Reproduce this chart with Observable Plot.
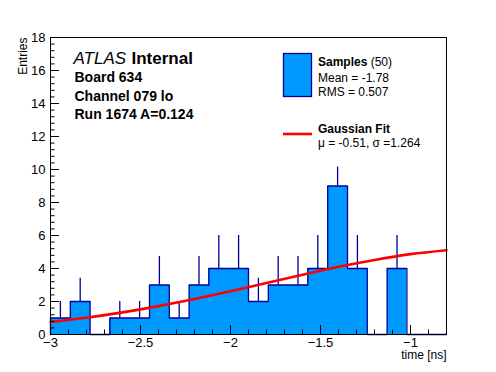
<!DOCTYPE html>
<html><head><meta charset="utf-8">
<script src="https://cdn.jsdelivr.net/npm/d3@7"></script>
<script src="https://cdn.jsdelivr.net/npm/@observablehq/plot@0.6"></script>
<style>
html,body{margin:0;padding:0;background:#fff;}
#chart{width:496px;height:372px;}
svg{font-family:"Liberation Sans",Arial,Helvetica,sans-serif;}
</style></head><body><div id="chart"></div>
<script>
// Histogram: 20 bins of width 0.11 over [-3, -0.8]
const binEdges = [-3,-2.89,-2.78,-2.67,-2.56,-2.45,-2.34,-2.23,-2.12,-2.01,-1.90,-1.79,-1.68,-1.57,-1.46,-1.35,-1.24,-1.13,-1.02,-0.91,-0.80];
const counts   = [1,2,0,1,1,3,1,3,4,4,2,3,3,4,9,4,0,4,0,0];
const errors   = [1,1.41,0,1,1,1.73,1,1.73,2,2,1.41,1.73,1.73,2,1.15,2,0,2,0,0];
// Gaussian fit curve
const fitX = [-3,-2.8,-2.6,-2.4,-2.2,-2.0,-1.8,-1.6,-1.4,-1.2,-1.0,-0.8];
const fitY = [0.76,1.02,1.34,1.72,2.15,2.62,3.12,3.62,4.10,4.52,4.87,5.11];
// Axis ticks
const xTicks = [-3,-2.5,-2,-1.5,-1];
const yTicks = [0,2,4,6,8,10,12,14,16,18];
const xMinor = [-3,-2.9,-2.8,-2.7,-2.6,-2.5,-2.4,-2.3,-2.2,-2.1,-2,-1.9,-1.8,-1.7,-1.6,-1.5,-1.4,-1.3,-1.2,-1.1,-1,-0.9,-0.8];
const yMinor = [0,0.4,0.8,1.2,1.6,2,2.4,2.8,3.2,3.6,4,4.4,4.8,5.2,5.6,6,6.4,6.8,7.2,7.6,8,8.4,8.8,9.2,9.6,10,10.4,10.8,11.2,11.6,12,12.4,12.8,13.2,13.6,14,14.4,14.8,15.2,15.6,16,16.4,16.8,17.2,17.6,18];
// Text
const atlasLabel = ["ATLAS", "Internal"];
const infoLines = ["Board 634", "Channel 079 lo", "Run 1674 A=0.124"];
const legendSamples = ["Samples", " (50)", "Mean = -1.78", "RMS = 0.507"];
const legendFit = ["Gaussian Fit", "\u03bc = -0.51, \u03c3 =1.264"];
const xTitle = "time [ns]";
const yTitle = "Entries";

const FILL = "#0099ff", LINE = "#000099";
const W = 496, H = 372, mL = 50, mR = 50, mT = 37, mB = 38;
const pw = W - mL - mR, ph = H - mT - mB;

const bins = counts.map((c, i) => ({x1: binEdges[i], x2: binEdges[i+1], c, e: errors[i], xc: (binEdges[i] + binEdges[i+1]) / 2}));
const outline = [{x: binEdges[0], y: 0}, ...counts.map((c, i) => ({x: binEdges[i], y: c})), {x: binEdges[binEdges.length-1], y: counts[counts.length-1]}];
const fit = fitX.map((x, i) => ({x, y: fitY[i]}));

const plot = Plot.plot({
  width: W, height: H,
  marginLeft: mL, marginRight: mR, marginTop: mT, marginBottom: mB,
  style: {fontFamily: '"Liberation Sans",Arial,Helvetica,sans-serif', fontSize: "13px", color: "black", background: "white"},
  x: {domain: [-3, -0.8]},
  y: {domain: [0, 18]},
  marks: [
    Plot.rect(bins, {x1: "x1", x2: "x2", y1: 0, y2: "c", fill: FILL, shapeRendering: "crispEdges"}),
    Plot.line(outline, {x: "x", y: "y", curve: "step-after", stroke: LINE, strokeWidth: 1.3}),
    Plot.ruleX(bins.filter(d => d.c > 0), {x: "xc", y1: "c", y2: d => d.c + d.e, stroke: LINE, strokeWidth: 1.3}),
    Plot.line(fit, {x: "x", y: "y", stroke: "#ff0000", strokeWidth: 2.6, curve: "monotone-x"}),
    Plot.frame({stroke: "black", strokeWidth: 1}),
    Plot.tickY(yTicks, {insetRight: pw - 9, stroke: "black"}),
    Plot.tickY(yMinor, {insetRight: pw - 4.5, stroke: "black"}),
    Plot.tickX(xTicks, {insetTop: ph - 9, stroke: "black"}),
    Plot.tickX(xMinor, {insetTop: ph - 4.5, stroke: "black"}),
    Plot.axisY({ticks: yTicks, tickSize: 0, tickPadding: 5, fontSize: 13}),
    Plot.axisX({ticks: xTicks, tickSize: 0, tickPadding: 3, fontSize: 13, tickFormat: d3.format("")}),
    Plot.text([yTitle], {frameAnchor: "top-left", dx: -32, rotate: -90, textAnchor: "end", fontSize: 12, text: d => d}),
    Plot.text([xTitle], {frameAnchor: "bottom-right", dy: 24, textAnchor: "end", fontSize: 12, text: d => d})
  ]
});
document.getElementById("chart").appendChild(plot);

// Annotations and legend (pixel-positioned like ROOT NDC text)
const svg = d3.select(plot);
const g = svg.append("g").attr("font-family", '"Liberation Sans",Arial,Helvetica,sans-serif').attr("fill", "black").attr("text-anchor", "start");
g.append("text").attr("x", 73.5).attr("y", 64).attr("font-size", 17).attr("font-style", "italic").text(atlasLabel[0]);
g.append("text").attr("x", 131.5).attr("y", 64).attr("font-size", 17).attr("font-weight", "bold").text(atlasLabel[1]);
[82, 101, 118.5].forEach((y, i) => g.append("text").attr("x", 74.5).attr("y", y).attr("font-size", 14).attr("font-weight", "bold").text(infoLines[i]));

g.append("rect").attr("x", 283.5).attr("y", 53.5).attr("width", 28).attr("height", 43).attr("fill", FILL).attr("stroke", LINE).attr("stroke-width", 1.3);
const t1 = g.append("text").attr("x", 318).attr("y", 66).attr("font-size", 12);
t1.append("tspan").attr("font-weight", "bold").text(legendSamples[0]);
t1.append("tspan").text(legendSamples[1]);
g.append("text").attr("x", 318).attr("y", 82).attr("font-size", 12).text(legendSamples[2]);
g.append("text").attr("x", 318).attr("y", 95.5).attr("font-size", 12).text(legendSamples[3]);

g.append("line").attr("x1", 283).attr("x2", 312).attr("y1", 134).attr("y2", 134).attr("stroke", "#ff0000").attr("stroke-width", 2.6);
g.append("text").attr("x", 318).attr("y", 133).attr("font-size", 12).attr("font-weight", "bold").text(legendFit[0]);
g.append("text").attr("x", 318).attr("y", 146.5).attr("font-size", 12).text(legendFit[1]);
</script>
</body></html>
